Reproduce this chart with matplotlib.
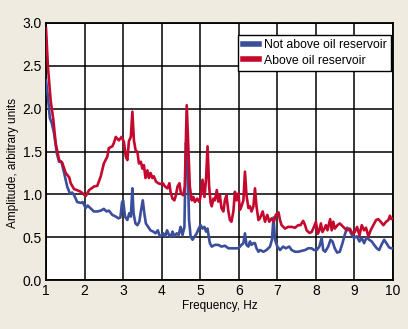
import matplotlib
matplotlib.use("Agg")
import matplotlib.pyplot as plt
from matplotlib import font_manager

# Spectral amplitude, site not above the oil reservoir
freq_not_above = [1.00, 1.05, 1.10, 1.15, 1.21, 1.28, 1.34, 1.40, 1.47, 1.55, 1.62, 1.68, 1.73,
                  1.81, 1.90, 1.95, 2.03, 2.08, 2.15, 2.24, 2.33, 2.42, 2.50, 2.57, 2.63, 2.72,
                  2.81, 2.88, 2.93, 2.97, 3.00, 3.05, 3.11, 3.16, 3.20, 3.24, 3.27, 3.32, 3.37,
                  3.42, 3.46, 3.51, 3.55, 3.59, 3.65, 3.71, 3.78, 3.84, 3.90, 3.94, 3.99, 4.04,
                  4.09, 4.14, 4.19, 4.24, 4.28, 4.33, 4.39, 4.44, 4.49, 4.54, 4.59, 4.63, 4.67,
                  4.71, 4.75, 4.80, 4.86, 4.91, 4.96, 5.01, 5.06, 5.11, 5.15, 5.19, 5.22, 5.25,
                  5.30, 5.38, 5.47, 5.55, 5.64, 5.73, 5.81, 5.90, 5.99, 6.07, 6.12, 6.16, 6.20,
                  6.25, 6.29, 6.33, 6.38, 6.42, 6.46, 6.51, 6.55, 6.64, 6.72, 6.81, 6.86, 6.90,
                  6.94, 7.00, 7.07, 7.15, 7.22, 7.31, 7.37, 7.46, 7.54, 7.63, 7.72, 7.80, 7.89,
                  7.95, 8.02, 8.09, 8.15, 8.19, 8.24, 8.32, 8.38, 8.43, 8.49, 8.55, 8.62, 8.69,
                  8.75, 8.81, 8.87, 8.93, 8.99, 9.06, 9.13, 9.19, 9.25, 9.32, 9.38, 9.45, 9.51,
                  9.58, 9.64, 9.70, 9.77, 9.83, 9.90, 9.96, 10.00]
amp_not_above = [2.33, 2.14, 1.89, 1.83, 1.71, 1.48, 1.38, 1.38, 1.25, 1.09, 1.01, 1.02, 0.99,
                 0.91, 0.90, 0.91, 0.84, 0.87, 0.84, 0.80, 0.80, 0.81, 0.83, 0.80, 0.81, 0.76,
                 0.74, 0.72, 0.73, 0.90, 0.93, 0.74, 0.70, 0.78, 0.74, 1.07, 0.78, 0.66, 0.64,
                 0.68, 0.80, 0.93, 0.78, 0.66, 0.62, 0.58, 0.565, 0.545, 0.58, 0.525, 0.51, 0.545,
                 0.51, 0.58, 0.525, 0.51, 0.565, 0.51, 0.545, 0.525, 0.62, 0.525, 0.62, 1.60, 1.48,
                 0.70, 0.51, 0.47, 0.51, 0.545, 0.60, 0.64, 0.60, 0.62, 0.565, 0.60, 0.51, 0.43,
                 0.39, 0.41, 0.41, 0.39, 0.40, 0.37, 0.37, 0.37, 0.37, 0.41, 0.43, 0.545, 0.41,
                 0.39, 0.45, 0.41, 0.43, 0.43, 0.37, 0.33, 0.35, 0.33, 0.35, 0.39, 0.47, 0.73,
                 0.47, 0.39, 0.35, 0.39, 0.37, 0.39, 0.35, 0.33, 0.33, 0.34, 0.35, 0.37, 0.37,
                 0.35, 0.35, 0.39, 0.49, 0.35, 0.33, 0.39, 0.47, 0.45, 0.37, 0.32, 0.33, 0.43,
                 0.53, 0.61, 0.58, 0.53, 0.49, 0.51, 0.45, 0.49, 0.43, 0.50, 0.47, 0.45, 0.41,
                 0.37, 0.35, 0.41, 0.47, 0.43, 0.38, 0.37, 0.37]

# Spectral amplitude, site above the oil reservoir
freq_above = [1.00, 1.05, 1.12, 1.19, 1.25, 1.34, 1.42, 1.51, 1.60, 1.64, 1.73, 1.80, 1.90,
              2.03, 2.12, 2.24, 2.33, 2.42, 2.50, 2.59, 2.63, 2.72, 2.76, 2.81, 2.89, 2.96,
              3.02, 3.07, 3.11, 3.15, 3.20, 3.24, 3.28, 3.33, 3.37, 3.41, 3.46, 3.50, 3.54,
              3.58, 3.63, 3.67, 3.71, 3.76, 3.80, 3.85, 3.91, 3.97, 4.03, 4.09, 4.15, 4.20,
              4.23, 4.28, 4.33, 4.37, 4.41, 4.46, 4.50, 4.56, 4.60, 4.65, 4.69, 4.73, 4.78,
              4.82, 4.86, 4.92, 4.98, 5.02, 5.06, 5.11, 5.15, 5.19, 5.23, 5.27, 5.30, 5.34,
              5.38, 5.43, 5.47, 5.51, 5.55, 5.60, 5.64, 5.68, 5.73, 5.77, 5.81, 5.86, 5.90,
              5.94, 5.99, 6.03, 6.07, 6.12, 6.16, 6.20, 6.25, 6.29, 6.33, 6.38, 6.42, 6.46,
              6.51, 6.55, 6.62, 6.68, 6.74, 6.79, 6.85, 6.91, 6.96, 7.03, 7.07, 7.11, 7.20,
              7.28, 7.37, 7.46, 7.54, 7.60, 7.67, 7.72, 7.76, 7.83, 7.89, 7.95, 8.00, 8.05,
              8.09, 8.13, 8.17, 8.22, 8.26, 8.30, 8.37, 8.41, 8.45, 8.49, 8.56, 8.62, 8.71,
              8.80, 8.88, 8.95, 9.01, 9.07, 9.13, 9.19, 9.25, 9.30, 9.36, 9.42, 9.49, 9.56,
              9.62, 9.68, 9.75, 9.82, 9.88, 9.92, 9.96, 10.00]
amp_above = [2.94, 2.49, 2.10, 1.87, 1.60, 1.40, 1.37, 1.25, 1.20, 1.13, 1.06, 1.05, 1.03,
             0.98, 1.05, 1.09, 1.10, 1.21, 1.36, 1.44, 1.54, 1.56, 1.60, 1.67, 1.63, 1.67,
             1.615, 1.44, 1.40, 1.62, 1.67, 1.965, 1.63, 1.50, 1.50, 1.36, 1.38, 1.30, 1.34,
             1.19, 1.28, 1.19, 1.25, 1.19, 1.21, 1.15, 1.13, 1.12, 1.13, 1.09, 1.07, 1.13,
             1.03, 0.95, 0.93, 0.99, 1.09, 1.13, 1.01, 0.99, 1.09, 2.04, 1.56, 1.09, 0.93,
             0.97, 0.91, 0.95, 0.91, 1.01, 1.17, 0.97, 1.17, 1.56, 1.10, 0.90, 0.86, 0.95,
             0.93, 1.05, 0.915, 0.99, 0.84, 0.80, 0.93, 0.99, 0.80, 0.70, 0.68, 0.80, 1.03,
             0.93, 1.01, 0.82, 0.86, 0.93, 1.265, 0.99, 0.84, 0.86, 0.80, 0.86, 1.07, 0.86,
             0.70, 0.72, 0.80, 0.68, 0.76, 0.68, 0.72, 0.68, 0.76, 0.79, 0.70, 0.64, 0.60,
             0.62, 0.62, 0.61, 0.64, 0.64, 0.69, 0.64, 0.58, 0.55, 0.56, 0.62, 0.68, 0.54,
             0.58, 0.66, 0.56, 0.60, 0.64, 0.58, 0.71, 0.58, 0.68, 0.60, 0.64, 0.66, 0.62,
             0.58, 0.60, 0.54, 0.56, 0.62, 0.52, 0.64, 0.58, 0.61, 0.51, 0.58, 0.64, 0.70,
             0.71, 0.68, 0.64, 0.68, 0.70, 0.75, 0.71, 0.72]

x_ticks = [1, 2, 3, 4, 5, 6, 7, 8, 9, 10]
y_ticks = [0.0, 0.5, 1.0, 1.5, 2.0, 2.5, 3.0]
series_labels = ["Not above oil reservoir", "Above oil reservoir"]

installed = {f.name for f in font_manager.fontManager.ttflist}
family = [f for f in ["Liberation Sans Narrow", "Liberation Sans", "DejaVu Sans"] if f in installed]
plt.rcParams["font.family"] = family

BG = "#efebe0"
BLUE = "#3a4e9c"
RED = "#c4082e"

fig = plt.figure(figsize=(4.08, 3.29), dpi=100, facecolor=BG)
ax = fig.add_axes([46 / 408, 1 - 280 / 329, 347 / 408, 257 / 329])
ax.set_facecolor("white")

ax.plot(freq_not_above, amp_not_above, color=BLUE, lw=1.9, label=series_labels[0],
        solid_joinstyle="round", zorder=3)
ax.plot(freq_above, amp_above, color=RED, lw=1.9, label=series_labels[1],
        solid_joinstyle="round", zorder=3)

ax.set_xlim(1, 10)
ax.set_ylim(0, 3.0)
ax.set_xticks(x_ticks)
ax.set_xticklabels([str(t) for t in x_ticks])
ax.set_yticks(y_ticks)
ax.set_yticklabels([f"{t:.1f}" for t in y_ticks])
ax.tick_params(length=0, labelsize=10, pad=3, colors="black")
ax.grid(True, color="black", lw=1.1, zorder=1)
for s in ax.spines.values():
    s.set_color("black")
    s.set_linewidth(1.3)

ax.set_xlabel("Frequency, Hz", fontsize=8.5, labelpad=1)
ax.set_ylabel("Amplitude, arbitrary units", fontsize=8.5, labelpad=2)
ax.yaxis.set_label_coords(-0.078, 0.455)

leg = ax.legend(loc="upper right", bbox_to_anchor=(0.993, 0.955), fontsize=8.8,
                frameon=True, fancybox=False, edgecolor="black", framealpha=1,
                handlelength=1.3, handletextpad=0.4, borderpad=0.35, labelspacing=0.3,
                borderaxespad=0)
leg.get_frame().set_linewidth(1.0)
for h in leg.get_lines():
    h.set_linewidth(4)
leg.set_zorder(5)

fig.savefig("out.png", dpi=100, facecolor=BG)
